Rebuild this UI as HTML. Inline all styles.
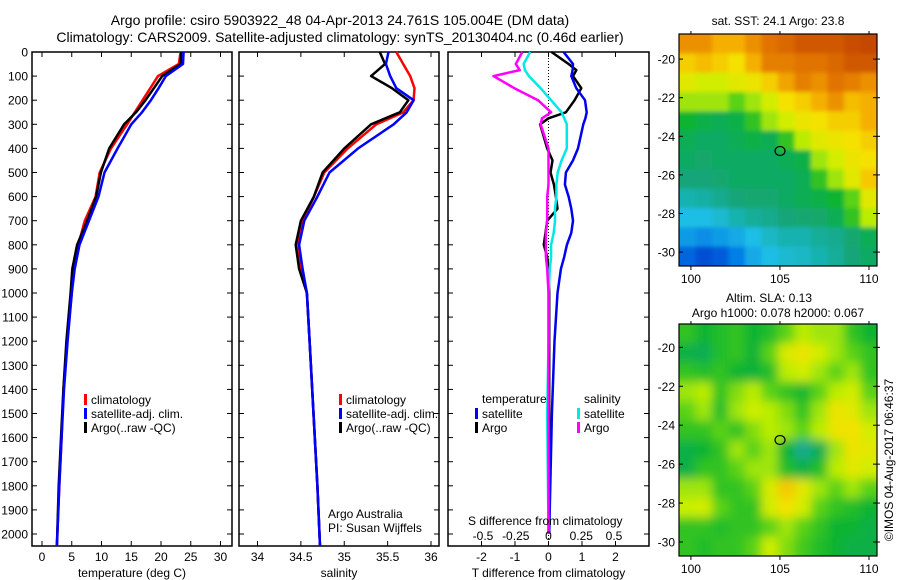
<!DOCTYPE html>
<html><head><meta charset="utf-8"><style>
body{margin:0;background:#fff;}
svg{display:block;font-family:"Liberation Sans",sans-serif;}
text{fill:#000;}
</style></head><body>
<svg id="chart" width="900" height="580" viewBox="0 0 900 580" xmlns="http://www.w3.org/2000/svg">
<defs>
<clipPath id="clipSST"><rect x="679" y="34" width="198" height="232"/></clipPath>
<clipPath id="clipSLA"><rect x="679" y="324" width="198" height="232"/></clipPath>
<filter id="blurA" x="-5%" y="-5%" width="110%" height="110%"><feGaussianBlur stdDeviation="2"/></filter>
<filter id="blurB" x="-5%" y="-5%" width="110%" height="110%"><feGaussianBlur stdDeviation="5"/></filter>
</defs>
<text x="340" y="25" font-size="14" text-anchor="middle">Argo profile: csiro 5903922_48 04-Apr-2013 24.761S 105.004E (DM data)</text>
<text x="340" y="42" font-size="14" text-anchor="middle">Climatology: CARS2009. Satellite-adjusted climatology: synTS_20130404.nc (0.46d earlier)</text>
<g id="g"></g>
</svg>
<script>
// ---- profile data ----
const depths=[0,50,100,150,200,250,300,400,500,600,700,800,900,1000,1200,1400,1600,1800,2050];
const tempClim=[23.3,23.0,19.5,18.2,16.9,15.6,14.3,11.6,9.7,9.0,7.2,6.1,5.3,5.0,4.2,3.6,3.3,2.9,2.5];
const tempSat=[23.8,23.7,20.8,19.6,18.3,16.8,15.0,12.7,10.5,9.5,7.9,6.3,5.5,5.0,4.3,3.7,3.3,2.9,2.5];
const tempArgo=[23.4,23.3,20.2,18.8,17.4,15.8,13.8,11.3,9.9,9.1,7.6,5.9,5.1,4.8,4.1,3.6,3.2,2.8,2.5];
const salClim=[35.6,35.68,35.76,35.81,35.8,35.68,35.37,35.04,34.77,34.65,34.52,34.47,34.5,34.57,34.6,34.63,34.66,34.69,34.72];
const salSat=[35.51,35.48,35.53,35.6,35.8,35.72,35.57,35.16,34.83,34.69,34.54,34.48,34.52,34.57,34.6,34.63,34.66,34.69,34.72];
const salArgo=[35.41,35.47,35.31,35.55,35.74,35.64,35.31,35.0,34.75,34.65,34.5,34.44,34.48,34.57,34.6,34.63,34.66,34.69,34.72];
const diffDepths=[0,50,75,100,150,200,250,275,300,400,450,500,550,600,650,700,750,800,850,900,1000,1200,1500,2000];
const dTsat=[0.45,0.73,0.72,0.68,0.83,1.09,1.14,1.1,1.04,0.88,0.73,0.52,0.49,0.6,0.68,0.73,0.68,0.55,0.47,0.37,0.27,0.18,0.1,0.02];
const dTargo=[0.09,0.6,0.83,0.73,0.98,0.78,0.52,0.0,-0.25,-0.04,0.12,0.06,0.16,0.22,0.27,-0.04,-0.09,-0.14,-0.04,0,0.02,0.02,0.02,0.02];
const dSsat=[-0.14,-0.19,-0.18,-0.15,-0.06,0.02,0.1,0.12,0.14,0.14,0.1,0.07,0.06,0.06,0.05,0.05,0.04,0.02,0.02,0.01,0,0,-0.01,0];
const dSargo=[-0.2,-0.25,-0.22,-0.42,-0.26,-0.08,0.02,-0.05,-0.06,0,0,0,0,-0.01,-0.01,-0.01,-0.02,-0.02,-0.02,-0.01,0,0,0,0];
const depthTicks=[0,100,200,300,400,500,600,700,800,900,1000,1100,1200,1300,1400,1500,1600,1700,1800,1900,2000];
const tempTicks=[0,5,10,15,20,25,30];
const salTicks=[34,34.5,35,35.5,36];
const dTTicks=[-2,-1,0,1,2];
const dSTicks=[-0.5,-0.25,0,0.25,0.5];
// ---- map data (rows north->south, cols west->east), normalized colour index ----
const sstGrid=[
[0.85,0.85,0.8,0.8,0.85,0.9,0.92,0.95,0.95,0.95,0.97,0.98],
[0.75,0.78,0.75,0.72,0.8,0.88,0.88,0.9,0.9,0.92,0.95,0.95],
[0.68,0.65,0.65,0.68,0.7,0.75,0.82,0.88,0.85,0.9,0.88,0.85],
[0.6,0.6,0.6,0.55,0.6,0.65,0.72,0.75,0.8,0.85,0.78,0.8],
[0.45,0.42,0.4,0.42,0.5,0.6,0.65,0.7,0.72,0.75,0.75,0.8],
[0.4,0.38,0.38,0.4,0.42,0.4,0.5,0.62,0.68,0.7,0.72,0.75],
[0.38,0.37,0.38,0.38,0.38,0.38,0.4,0.42,0.6,0.65,0.7,0.72],
[0.35,0.35,0.36,0.38,0.38,0.38,0.38,0.4,0.5,0.6,0.68,0.76],
[0.3,0.31,0.33,0.35,0.36,0.36,0.38,0.4,0.42,0.45,0.55,0.68],
[0.25,0.25,0.27,0.3,0.32,0.33,0.35,0.36,0.37,0.4,0.5,0.62],
[0.2,0.18,0.2,0.22,0.25,0.28,0.3,0.3,0.32,0.33,0.36,0.4],
[0.12,0.08,0.1,0.16,0.22,0.25,0.27,0.28,0.3,0.32,0.35,0.38]];
const slaGrid=[
[0.5,0.45,0.48,0.5,0.45,0.48,0.55,0.62,0.6,0.6,0.5,0.45],
[0.42,0.4,0.48,0.5,0.44,0.55,0.66,0.7,0.65,0.6,0.55,0.5],
[0.5,0.48,0.5,0.45,0.44,0.48,0.62,0.65,0.6,0.55,0.6,0.5],
[0.6,0.62,0.5,0.58,0.62,0.55,0.5,0.46,0.55,0.62,0.65,0.55],
[0.55,0.6,0.48,0.6,0.64,0.62,0.58,0.5,0.6,0.7,0.68,0.6],
[0.5,0.5,0.55,0.5,0.58,0.62,0.6,0.55,0.62,0.7,0.72,0.65],
[0.42,0.45,0.5,0.6,0.55,0.6,0.45,0.33,0.4,0.6,0.7,0.68],
[0.42,0.5,0.5,0.55,0.6,0.6,0.48,0.42,0.48,0.62,0.68,0.65],
[0.6,0.6,0.5,0.5,0.55,0.66,0.76,0.68,0.6,0.55,0.6,0.55],
[0.63,0.65,0.55,0.5,0.5,0.65,0.72,0.65,0.55,0.5,0.48,0.45],
[0.5,0.5,0.48,0.5,0.5,0.55,0.6,0.55,0.5,0.45,0.45,0.42],
[0.5,0.48,0.5,0.5,0.55,0.64,0.58,0.52,0.48,0.45,0.42,0.42]];
const latTicks=[-20,-22,-24,-26,-28,-30];
const lonTicks=[100,105,110];
const floatLon=105.004, floatLat=-24.761;

const NS="http://www.w3.org/2000/svg";
const G=document.getElementById('g');
function mk(tag,attrs,parent){const e=document.createElementNS(NS,tag);for(const k in attrs)e.setAttribute(k,attrs[k]);(parent||G).appendChild(e);return e;}
const TOP=52,BOT=546;
const yD=d=>TOP+d*0.241;
const xT=t=>42+t*5.95;
const xS=s=>257.5+(s-34)*86.75;
const xdT=v=>548.5+v*33.5;
const xdS=v=>548.5+v*131;
function fmt(v){return String(v);}

function panel(name,x0,x1,xs,ticks,tickFmt,title,leftLabels){
  const box=mk('rect',{x:x0,y:TOP,width:x1-x0,height:BOT-TOP,fill:'none',stroke:'#000','stroke-width':1.5});
  
  
  depthTicks.forEach(d=>{
    const y=yD(d);
    const t1=mk('line',{x1:x0,x2:x0+5,y1:y,y2:y,stroke:'#000'});
    
    
    const t2=mk('line',{x1:x1-5,x2:x1,y1:y,y2:y,stroke:'#000'});
    
    
    if(leftLabels){
      const tx=mk('text',{x:28,y:y+4.5,'font-size':12,'text-anchor':'end'});
      tx.textContent=d;
      
      
    }
  });
  ticks.forEach(v=>{
    const x=xs(v);
    const a=mk('line',{x1:x,x2:x,y1:BOT,y2:BOT-5,stroke:'#000'});
    
    
    const b=mk('line',{x1:x,x2:x,y1:TOP,y2:TOP+5,stroke:'#000'});
    
    
    const tx=mk('text',{x:x,y:561,'font-size':12,'text-anchor':'middle'});
    tx.textContent=tickFmt(v);
    
    
  });
  const tt=mk('text',{x:(x0+x1)/2,y:577,'font-size':12,'text-anchor':'middle'});
  tt.textContent=title;
  
  
}
function line(name,ds,vals,xs,color,w){
  const pts=ds.map((d,i)=>xs(vals[i]).toFixed(1)+','+yD(d).toFixed(1)).join(' ');
  const p=mk('polyline',{points:pts,fill:'none',stroke:color,'stroke-width':w||2.5,'stroke-linejoin':'round'});
  
  
}
function legend(x,y,color,label,name){
  const r=mk('rect',{x:x,y:y-9,width:3,height:11,fill:color});
  
  
  const t=mk('text',{x:x+7,y:y+1,'font-size':12});
  t.textContent=label;
  
  
}
function txt(x,y,s,name,anchor,size){
  const t=mk('text',{x:x,y:y,'font-size':size||12,'text-anchor':anchor||'start'});
  t.textContent=s;
  
  
  return t;
}

// Panel 1 temperature
panel('temperature-panel',32,232,xT,tempTicks,fmt,'temperature (deg C)',true);
line('temperature-climatology-line',depths,tempClim,xT,'#ff0000');
line('temperature-argo-line',depths,tempArgo,xT,'#000000');
line('temperature-satellite-line',depths,tempSat,xT,'#0000ff');
legend(84,403,'#ff0000','climatology','legend-climatology');
legend(84,417,'#0000ff','satellite-adj. clim.','legend-satellite-adj');
legend(84,431,'#000000','Argo(..raw -QC)','legend-argo');

// Panel 2 salinity
panel('salinity-panel',239,439,xS,salTicks,fmt,'salinity',false);
line('salinity-climatology-line',depths,salClim,xS,'#ff0000');
line('salinity-argo-line',depths,salArgo,xS,'#000000');
line('salinity-satellite-line',depths,salSat,xS,'#0000ff');
legend(339,403,'#ff0000','climatology','legend-sal-climatology');
legend(339,417,'#0000ff','satellite-adj. clim.','legend-sal-satellite-adj');
legend(339,431,'#000000','Argo(..raw -QC)','legend-sal-argo');
txt(328,518,'Argo Australia','credit-argo-australia');
txt(328,532,'PI: Susan Wijffels','credit-pi');

// Panel 3 differences
panel('difference-panel',448,649,xdT,dTTicks,fmt,'T difference from climatology',false);
const zl=mk('line',{x1:548.5,x2:548.5,y1:TOP,y2:BOT,stroke:'#000','stroke-width':1,'stroke-dasharray':'1,2'});


line('dT-argo-line',diffDepths,dTargo,xdT,'#000000');
line('dT-satellite-line',diffDepths,dTsat,xdT,'#0000ee');
line('dS-satellite-line',diffDepths,dSsat,xdS,'#00e8e8');
line('dS-argo-line',diffDepths,dSargo,xdS,'#ff00ff');
txt(482,403,'temperature','legend-temperature-header');
txt(584,403,'salinity','legend-salinity-header');
legend(475,417,'#0000ff','satellite','legend-dT-satellite');
legend(475,431,'#000000','Argo','legend-dT-argo');
legend(577,417,'#00e8e8','satellite','legend-dS-satellite');
legend(577,431,'#ff00ff','Argo','legend-dS-argo');
txt(468,525,'S difference from climatology','s-diff-axis-title');
dSTicks.forEach(v=>{txt(xdS(v),540,fmt(v),'s-diff-tick-label','middle');});

// ---- maps ----
const stops=[[0,[0,32,190]],[0.15,[0,120,230]],[0.25,[30,190,230]],[0.35,[20,165,120]],[0.45,[10,180,50]],[0.55,[90,210,20]],[0.63,[200,240,0]],[0.72,[245,225,0]],[0.8,[245,175,0]],[0.9,[225,115,0]],[1,[190,60,0]]];
function cmap(v){
  for(let i=1;i<stops.length;i++){if(v<=stops[i][0]){const a=stops[i-1],b=stops[i];const f=(v-a[0])/(b[0]-a[0]);
    return 'rgb('+a[1].map((c,k)=>Math.round(c+(b[1][k]-c)*f)).join(',')+')';}}
  return 'rgb(190,60,0)';
}
const MX0=679,MX1=877,lonA=99.33,lonB=110.45;
const xLon=l=>MX0+(l-lonA)*(MX1-MX0)/(lonB-lonA);
function drawMap(name,grid,y0,y1,latTop,latBot,clip,blur){
  const yLat=l=>y0+(latTop-l)*(y1-y0)/(latTop-latBot);
  const g=mk('g',{'clip-path':'url(#'+clip+')'});
  
  
  const inner=mk('g',{filter:'url(#'+blur+')'},g);
  const rows=grid.length,cols=grid[0].length;
  const cw=(MX1-MX0)/cols,ch=(y1-y0)/rows,pad=12;
  grid.forEach((row,r)=>row.forEach((v,c)=>{
    let x=MX0+c*cw,y=y0+r*ch,w=cw+0.6,h=ch+0.6;
    if(c===0){x-=pad;w+=pad;} if(c===cols-1){w+=pad;}
    if(r===0){y-=pad;h+=pad;} if(r===rows-1){h+=pad;}
    const cell=mk('rect',{x:x,y:y,width:w,height:h,fill:cmap(v)},inner);
    
    
  }));
  const fr=mk('rect',{x:MX0,y:y0,width:MX1-MX0,height:y1-y0,fill:'none',stroke:'#000','stroke-width':1.2});
  
  
  latTicks.forEach(l=>{
    const y=yLat(l);
    const a=mk('line',{x1:MX0,x2:MX0+4,y1:y,y2:y,stroke:'#000'});
    
    
    const b=mk('line',{x1:MX1-4,x2:MX1+3,y1:y,y2:y,stroke:'#000'});
    
    
    txt(675,y+4.5,String(l),name+'-lat-label','end');
  });
  lonTicks.forEach(l=>{
    const x=xLon(l);
    const a=mk('line',{x1:x,x2:x,y1:y1,y2:y1+4,stroke:'#000'});
    
    
    const b=mk('line',{x1:x,x2:x,y1:y0,y2:y0-3,stroke:'#000'});
    
    
    txt(x,y1+17,String(l),name+'-lon-label','middle');
  });
  const m=mk('ellipse',{cx:xLon(floatLon),cy:yLat(floatLat),rx:5,ry:4.5,fill:'none',stroke:'#000','stroke-width':1.2});
  
  
}
drawMap('sst-map',sstGrid,34,266,-18.7,-30.72,'clipSST','blurA');
drawMap('sla-map',slaGrid,324,556,-18.8,-30.72,'clipSLA','blurB');
txt(778,25,'sat. SST: 24.1 Argo: 23.8','sst-map-title','middle');
txt(769,302,'Altim. SLA: 0.13','sla-map-title','middle');
txt(778,317,'Argo h1000: 0.078 h2000: 0.067','sla-map-subtitle','middle');
const cr=txt(0,0,'©IMOS 04-Aug-2017 06:46:37','copyright-timestamp','middle');
cr.setAttribute('transform','translate(893,460) rotate(-90)');
</script>
</body></html>
